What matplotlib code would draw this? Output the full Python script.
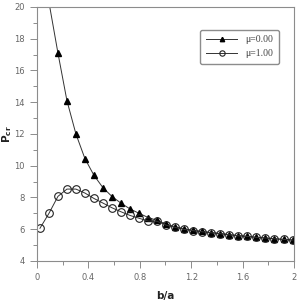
import matplotlib
matplotlib.use('Agg')
import matplotlib.pyplot as plt
from matplotlib.ticker import MultipleLocator

# b/a values (both series share them)
ba = [0.023, 0.093, 0.163, 0.233, 0.303, 0.373, 0.443, 0.513, 0.584,
      0.654, 0.724, 0.795, 0.865, 0.935, 1.005, 1.075, 1.146, 1.216,
      1.286, 1.356, 1.427, 1.497, 1.567, 1.637, 1.708, 1.778, 1.848,
      1.919, 1.99]

# mu = 0.00 (first two points run off the top of the axes)
p_mu0 = [32.0, 20.3, 17.1, 14.1, 12.0, 10.45, 9.4, 8.62, 8.06,
         7.64, 7.28, 7.0, 6.74, 6.56, 6.32, 6.16, 6.03, 5.93,
         5.86, 5.79, 5.73, 5.66, 5.60, 5.55, 5.49, 5.45, 5.40,
         5.36, 5.32]

# mu = 1.00
p_mu1 = [6.06, 7.0, 8.07, 8.53, 8.53, 8.28, 7.94, 7.65, 7.35,
         7.1, 6.87, 6.69, 6.52, 6.50, 6.26, 6.12, 5.99, 5.91,
         5.84, 5.78, 5.72, 5.65, 5.59, 5.55, 5.49, 5.45, 5.40,
         5.36, 5.32]

spine_col = '#8c8c8c'
text_col = '#666666'

fig = plt.figure(figsize=(3.02, 3.0), dpi=100)
ax = fig.add_axes([0.1225, 0.13, 0.851, 0.8467])

ax.plot(ba, p_mu0, color='#333333', lw=0.7, marker='^', ms=4.5,
        mfc='black', mec='black', label=u'\u03bc=0.00')
ax.plot(ba, p_mu1, color='#333333', lw=0.7, marker='o', ms=5.5,
        mfc='none', mec='#222222', mew=0.8, label=u'\u03bc=1.00')

ax.set_xlim(0, 2)
ax.set_ylim(4, 20)
ax.xaxis.set_minor_locator(MultipleLocator(0.2))
ax.yaxis.set_major_locator(MultipleLocator(2))
ax.yaxis.set_minor_locator(MultipleLocator(1))
ax.set_xticks([0, 0.4, 0.8, 1.2, 1.6, 2.0])
ax.set_xticklabels(['0', '0.4', '0.8', '1.2', '1.6', '2'])

for s in ax.spines.values():
    s.set_color(spine_col)
    s.set_linewidth(0.8)
ax.tick_params(which='major', direction='out', length=5, width=0.7,
               color=spine_col, labelsize=6, labelcolor=text_col, pad=4)
ax.tick_params(which='minor', direction='out', length=3, width=0.7,
               color=spine_col)

ax.set_xlabel('b/a', fontsize=7.5, fontweight='bold', color='#222222',
              va='center')
ax.xaxis.set_label_coords(0.5, -0.138)
ax.set_ylabel(r'$\mathbf{P_{cr}}$', fontsize=7.5, color='#222222',
              va='center')
ax.yaxis.set_label_coords(-0.118, 0.5)

leg = ax.legend(loc='upper right', bbox_to_anchor=(0.96, 0.93),
                prop={'family': 'Liberation Serif', 'size': 7},
                handlelength=3.2, markerscale=0.7, fancybox=True,
                edgecolor=spine_col, framealpha=1, borderpad=0.6,
                labelspacing=0.5)
for t in leg.get_texts():
    t.set_color('#444444')

fig.savefig('out.png', dpi=100)
